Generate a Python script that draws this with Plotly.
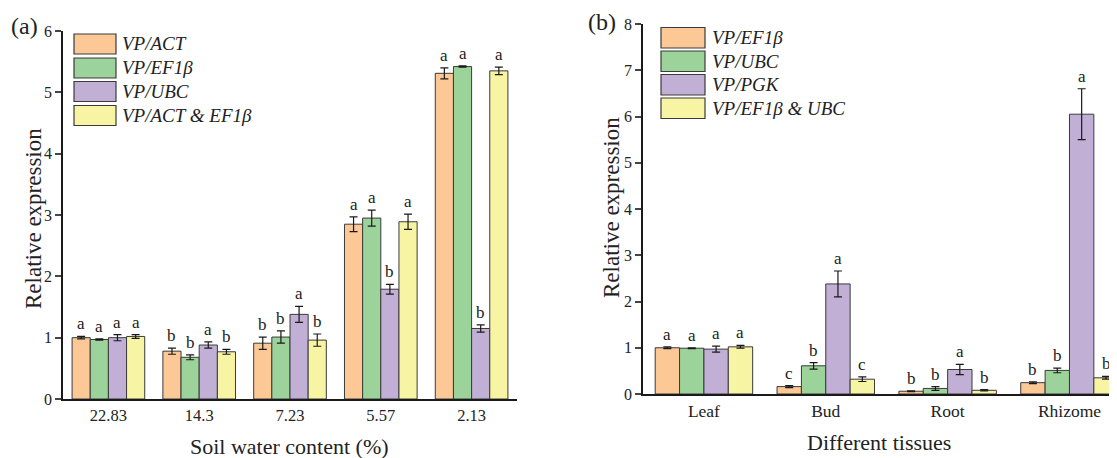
import plotly.graph_objects as go

# ---------------- data ----------------
soil_cats = ["22.83", "14.3", "7.23", "5.57", "2.13"]
soil_series = ["VP/ACT", "VP/EF1β", "VP/UBC", "VP/ACT & EF1β"]
soil_vals = [
    [1.00, 0.78, 0.91, 2.85, 5.31],   # VP/ACT
    [0.97, 0.68, 1.01, 2.95, 5.42],   # VP/EF1β
    [1.00, 0.88, 1.38, 1.79, 1.15],   # VP/UBC
    [1.02, 0.77, 0.96, 2.89, 5.35],   # VP/ACT & EF1β
]
soil_err = [
    [0.02, 0.05, 0.10, 0.12, 0.09],
    [0.01, 0.04, 0.10, 0.13, 0.01],
    [0.05, 0.05, 0.13, 0.08, 0.06],
    [0.03, 0.04, 0.10, 0.125, 0.06],
]
soil_letters = [
    ["a", "b", "b", "a", "a"],
    ["a", "b", "b", "a", "a"],
    ["a", "a", "a", "b", "b"],
    ["a", "b", "b", "a", "a"],
]

tissue_cats = ["Leaf", "Bud", "Root", "Rhizome"]
tissue_series = ["VP/EF1β", "VP/UBC", "VP/PGK", "VP/EF1β & UBC"]
tissue_vals = [
    [1.00, 0.16, 0.06, 0.245],   # VP/EF1β
    [0.99, 0.61, 0.12, 0.51],    # VP/UBC
    [0.97, 2.38, 0.53, 6.05],    # VP/PGK
    [1.02, 0.32, 0.08, 0.35],    # VP/EF1β & UBC
]
tissue_err = [
    [0.02, 0.02, 0.01, 0.02],
    [0.01, 0.07, 0.04, 0.05],
    [0.065, 0.28, 0.11, 0.55],
    [0.03, 0.05, 0.015, 0.03],
]
tissue_letters = [
    ["a", "c", "b", "b"],
    ["a", "b", "b", "b"],
    ["a", "a", "a", "a"],
    ["a", "c", "b", "b"],
]

colors = ["#FCC896", "#9BD39A", "#C1AFD6", "#F7F4A3"]
edge = "#3a3a3a"
FONT = "Liberation Serif"
OFF = 8                      # page body margin in the browser
W, H = 1117 - OFF, 458 - OFF
BARGAP = 0.2

fig = go.Figure()

def add_panel(cats, series, vals, errs, letters, xa, ya):
    n = len(series)
    bw = (1 - BARGAP) / n
    xs = list(range(len(cats)))
    for j, name in enumerate(series):
        fig.add_trace(go.Bar(
            x=xs, y=vals[j], name=name, xaxis=xa, yaxis=ya,
            marker=dict(color=colors[j], line=dict(color=edge, width=1)),
            error_y=dict(type="data", array=errs[j], color="#1a1a1a",
                         thickness=1.2, width=4),
            showlegend=False, offsetgroup=str(j),
        ))
        for i in xs:
            fig.add_annotation(
                x=i - (1 - BARGAP) / 2 + bw * (j + 0.5),
                y=vals[j][i] + errs[j][i],
                xref=xa, yref=ya, text=letters[j][i], showarrow=False,
                xanchor="center", yanchor="bottom", yshift=1,
                font=dict(family=FONT, size=17, color="#222"),
            )

add_panel(soil_cats, soil_series, soil_vals, soil_err, soil_letters, "x", "y")
add_panel(tissue_cats, tissue_series, tissue_vals, tissue_err, tissue_letters, "x2", "y2")

def px_x(p):
    return (p - OFF) / W

def px_y(p):
    return 1 - (p - OFF) / H

axis_common = dict(showline=True, linecolor="#1a1a1a", showgrid=False, zeroline=False,
                   automargin=False)

def tf(size):
    return dict(family=FONT, size=size, color="#222")

fig.update_layout(
    template="none",
    width=W, height=H,
    margin=dict(l=0, r=0, t=0, b=0, pad=0),
    paper_bgcolor="white", plot_bgcolor="white",
    showlegend=False,
    barmode="group", bargap=BARGAP, bargroupgap=0,
    xaxis=dict(domain=[px_x(63), px_x(517)], range=[-0.5, 4.5],
               tickvals=list(range(len(soil_cats))), ticktext=soil_cats,
               ticks="", linewidth=2, anchor="y", tickfont=tf(16.5), **axis_common),
    yaxis=dict(domain=[px_y(399), px_y(31)], range=[0, 6], dtick=1,
               ticks="outside", ticklen=6, tickwidth=1.5, linewidth=1.5,
               anchor="x", tickfont=tf(16), **axis_common),
    xaxis2=dict(domain=[px_x(643), 1.0], range=[-0.5, 3.39],
                tickvals=list(range(len(tissue_cats))), ticktext=tissue_cats,
                ticks="", linewidth=2, anchor="y2", tickfont=tf(17.5), **axis_common),
    yaxis2=dict(domain=[px_y(394), px_y(24)], range=[0, 8], dtick=1,
                ticks="outside", ticklen=6, tickwidth=1.5, linewidth=1.5,
                anchor="x2", tickfont=tf(16), **axis_common),
)

# panel labels and axis titles
txt = dict(family=FONT, color="#222")
def label(x, y, text, size, angle=0):
    fig.add_annotation(x=px_x(x), y=px_y(y), xref="paper", yref="paper", text=text,
                       showarrow=False, xanchor="center", yanchor="middle",
                       textangle=angle, font=dict(size=size, **txt))

label(24, 26, "(a)", 24)
label(602, 22, "(b)", 24)
label(33, 219, "Relative expression", 23, -90)
label(611, 208, "Relative expression", 23, -90)
label(289, 446, "Soil water content (%)", 22)
label(879, 442, "Different tissues", 22)

# custom legends (large swatches as in the reference)
def add_legend(series, x0, w, y_tops, h, tx):
    for j, name in enumerate(series):
        yt = y_tops[j]
        fig.add_shape(type="rect", xref="paper", yref="paper",
                      x0=px_x(x0), x1=px_x(x0 + w), y0=px_y(yt + h), y1=px_y(yt),
                      fillcolor=colors[j], line=dict(color=edge, width=1.2))
        fig.add_annotation(x=px_x(tx), y=px_y(yt + h / 2), xref="paper", yref="paper",
                           text="<i>" + name + "</i>", showarrow=False,
                           xanchor="left", yanchor="middle",
                           font=dict(size=19, **txt))

add_legend(soil_series, 74, 42, [34, 58, 81.5, 105.5], 20, 120)
add_legend(tissue_series, 661, 44, [27.5, 51, 74.5, 98], 20.5, 710)

fig.write_html("out.html")
